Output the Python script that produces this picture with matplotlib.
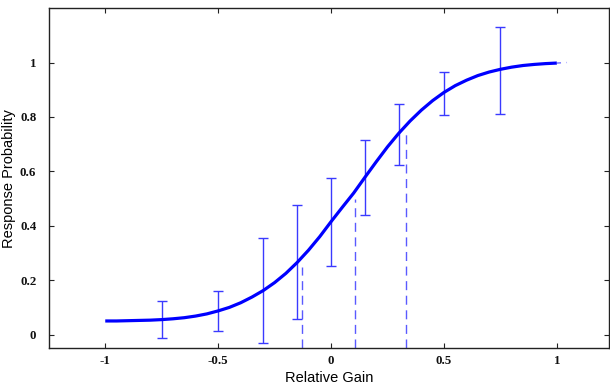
import numpy as np
import matplotlib
matplotlib.use("Agg")
import matplotlib.pyplot as plt
from matplotlib.font_manager import FontProperties

# Fitted psychometric curve (every 0.05)
curve_x = [-1.0, -0.95, -0.9, -0.85, -0.8, -0.75, -0.7, -0.65, -0.6, -0.55, -0.5,
           -0.45, -0.4, -0.35, -0.3, -0.25, -0.2, -0.15, -0.1, -0.05, 0.0,
           0.05, 0.1, 0.15, 0.2, 0.25, 0.3, 0.35, 0.4, 0.45, 0.5,
           0.55, 0.6, 0.65, 0.7, 0.75, 0.8, 0.85, 0.9, 0.95, 1.0]
curve_y = [0.050, 0.050, 0.051, 0.052, 0.053, 0.055, 0.058, 0.062, 0.068, 0.076, 0.087,
           0.100, 0.117, 0.138, 0.162, 0.191, 0.225, 0.265, 0.310, 0.360, 0.415,
           0.468, 0.520, 0.578, 0.635, 0.690, 0.740, 0.785, 0.825, 0.860, 0.890,
           0.915, 0.935, 0.952, 0.965, 0.975, 0.983, 0.989, 0.993, 0.996, 0.998]

# short dash-dot tail past x=1
tail_x = [1.0, 1.045]
tail_y = [0.998, 1.0]

# Error bars: position, lower end, upper end
bar_x = [-0.75, -0.5, -0.3, -0.15, 0.0, 0.15, 0.3, 0.5, 0.75]
bar_lo = [-0.013, 0.014, -0.032, 0.059, 0.253, 0.440, 0.624, 0.806, 0.812]
bar_hi = [0.124, 0.159, 0.354, 0.475, 0.574, 0.716, 0.847, 0.964, 1.132]

# Threshold markers (25 / 50 / 75 %)
thr_x = [-0.127, 0.104, 0.333]
thr_y = [0.25, 0.5, 0.75]

xticks = [-1, -0.5, 0, 0.5, 1]
xtick_labels = ["-1", "-0.5", "0", "0.5", "1"]
yticks = [0, 0.2, 0.4, 0.6, 0.8, 1]
ytick_labels = ["0", "0.2", "0.4", "0.6", "0.8", "1"]

fig = plt.figure(figsize=(6.10, 3.86), dpi=100)
ax = fig.add_axes([0.080, 0.098, 0.918, 0.881])

ymin = -0.05
ax.vlines(thr_x, ymin, thr_y, colors="#5a5aff", linestyles=(0, (6.5, 4)), linewidth=1.0, zorder=2)

mid = (np.array(bar_lo) + np.array(bar_hi)) / 2
err = (np.array(bar_hi) - np.array(bar_lo)) / 2
ax.errorbar(bar_x, mid, yerr=err, fmt="none", ecolor="#3a3aff", elinewidth=1.0,
            capsize=3.3, capthick=1.0, zorder=3)

ax.plot(curve_x, curve_y, color="#0000ff", linewidth=2.3, solid_capstyle="butt",
        solid_joinstyle="round", zorder=4)
ax.plot(tail_x, tail_y, color="#6a6aff", linewidth=1.0, linestyle=(0, (3, 4, 1.5, 4)), zorder=4)

ax.set_xlim(-1.25, 1.23)
ax.set_ylim(ymin, 1.2)
ax.set_xticks(xticks)
ax.set_xticklabels(xtick_labels)
ax.set_yticks(yticks)
ax.set_yticklabels(ytick_labels)

tick_font = FontProperties(family="Liberation Serif", weight="bold", size=9.3)
for lab in ax.get_xticklabels() + ax.get_yticklabels():
    lab.set_fontproperties(tick_font)

ax.tick_params(direction="in", length=3.6, width=0.8, top=True, right=True,
               colors="#222222", labelcolor="#111111")
ax.tick_params(axis="x", pad=5)
ax.tick_params(axis="y", pad=9)

for s in ax.spines.values():
    s.set_color("#222222")
    s.set_linewidth(1.0)

ax.set_xlabel("Relative Gain", family="Liberation Sans", fontsize=10.5, labelpad=3)
ax.set_ylabel("Response Probability", family="Liberation Sans", fontsize=10.5, labelpad=3)

fig.savefig("out.png", dpi=100)
